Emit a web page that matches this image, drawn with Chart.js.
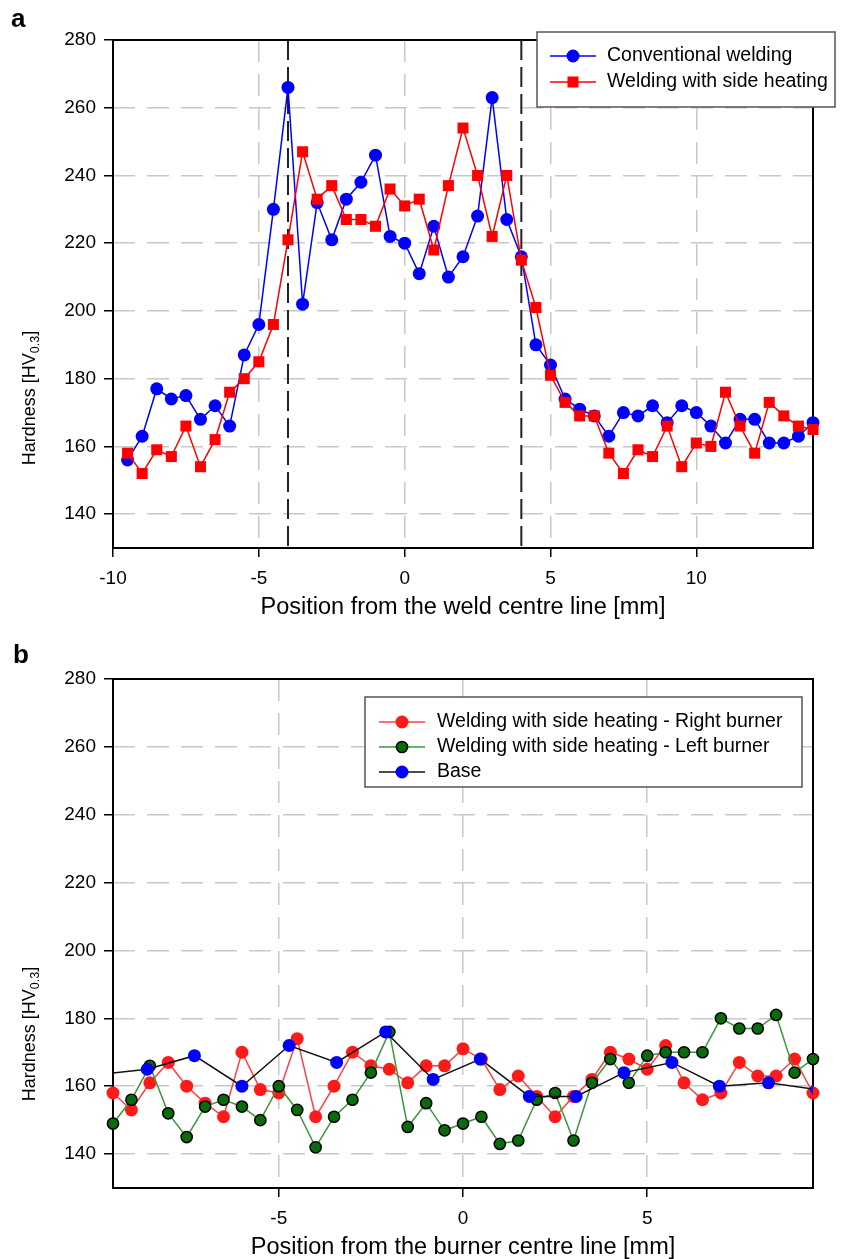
<!DOCTYPE html>
<html>
<head>
<meta charset="utf-8">
<script src="https://cdn.jsdelivr.net/npm/chart.js@4.4.1/dist/chart.umd.min.js"></script>
<style>
  html, body { margin: 0; padding: 0; background: #fff; }
  body { width: 845px; height: 1259px; position: relative; overflow: hidden; font-family: "Liberation Sans", Arial, sans-serif; }
  .panel { position: absolute; left: 0; width: 845px; }
  #panelA { top: 0; height: 630px; }
  #panelB { top: 630px; height: 640px; }
  .tag { position: absolute; z-index: 2; font-weight: bold; font-size: 26px; line-height: 1; }
</style>
</head>
<body>
<div class="panel" id="panelA"><canvas id="chartA" width="845" height="630"></canvas></div>
<div class="panel" id="panelB"><canvas id="chartB" width="845" height="640"></canvas></div>
<div class="tag" style="left:11px; top:5px">a</div>
<div class="tag" style="left:13px; top:641px">b</div>
<script>
// --- panel a: hardness across the weld ---
const posA = [-9.5, -9, -8.5, -8, -7.5, -7, -6.5, -6, -5.5, -5,
  -4.5, -4, -3.5, -3, -2.5, -2, -1.5, -1, -0.5, 0,
  0.5, 1, 1.5, 2, 2.5, 3, 3.5, 4, 4.5, 5,
  5.5, 6, 6.5, 7, 7.5, 8, 8.5, 9, 9.5, 10,
  10.5, 11, 11.5, 12, 12.5, 13, 13.5, 14];
const conventional = [156, 163, 177, 174, 175, 168, 172, 166, 187, 196,
  230, 266, 202, 232, 221, 233, 238, 246, 222, 220,
  211, 225, 210, 216, 228, 263, 227, 216, 190, 184,
  174, 171, 169, 163, 170, 169, 172, 167, 172, 170,
  166, 161, 168, 168, 161, 161, 163, 167];
const sideHeating = [158, 152, 159, 157, 166, 154, 162, 176, 180, 185,
  196, 221, 247, 233, 237, 227, 227, 225, 236, 231,
  233, 218, 237, 254, 240, 222, 240, 215, 201, 181,
  173, 169, 169, 158, 152, 159, 157, 166, 154, 161,
  160, 176, 166, 158, 173, 169, 166, 165];
const fusionLines = [-4, 4];

// --- panel b: hardness across the burner track ---
const posB = [-9.5, -9, -8.5, -8, -7.5, -7, -6.5, -6, -5.5, -5,
  -4.5, -4, -3.5, -3, -2.5, -2, -1.5, -1, -0.5, 0,
  0.5, 1, 1.5, 2, 2.5, 3, 3.5, 4, 4.5, 5,
  5.5, 6, 6.5, 7, 7.5, 8, 8.5, 9, 9.5];
const rightBurner = [158, 153, 161, 167, 160, 155, 151, 170, 159, 158,
  174, 151, 160, 170, 166, 165, 161, 166, 166, 171,
  168, 159, 163, 157, 151, 157, 162, 170, 168, 165,
  172, 161, 156, 158, 167, 163, 163, 168, 158];
const leftBurner = [149, 156, 166, 152, 145, 154, 156, 154, 150, 160,
  153, 142, 151, 156, 164, 176, 148, 155, 147, 149,
  151, 143, 144, 156, 158, 144, 161, 168, 161, 169,
  170, 170, 170, 180, 177, 177, 181, 164, 168];
const basePos = [-9.86, -8.57, -7.29, -6.0, -4.72, -3.43, -2.1, -0.81,
  0.47, 1.8, 3.07, 4.37, 5.67, 6.96, 8.29, 9.6];
const baseHv = [163.5, 165, 169, 160, 172, 167, 176, 162,
  168, 157, 157, 164, 167, 160, 161, 159];

// y title pieces (main text, subscript, closing bracket)
const yTitle = ['Hardness [HV', '0.3', ']'];

const FONT = '"Liberation Sans", Arial, sans-serif';
Chart.defaults.font.family = FONT;
Chart.defaults.color = '#000';

const pts = (xs, ys) => xs.map((x, i) => ({ x: x, y: ys[i] }));

// frame around the plot, dashed fusion lines, y title with subscript
const framePlugin = {
  id: 'frame',
  beforeDatasetsDraw(chart, args, opts) {
    const { ctx, chartArea: a } = chart;
    const xs = chart.scales.x;
    ctx.save();
    (opts.lines || []).forEach(v => {
      const px = xs.getPixelForValue(v);
      ctx.strokeStyle = '#222';
      ctx.lineWidth = 2;
      ctx.setLineDash([20, 7]);
      ctx.beginPath();
      ctx.moveTo(px, a.top);
      ctx.lineTo(px, a.bottom);
      ctx.stroke();
    });
    ctx.setLineDash([]);
    ctx.strokeStyle = '#000';
    ctx.lineWidth = 2;
    ctx.strokeRect(a.left, a.top, a.right - a.left, a.bottom - a.top);
    ctx.restore();
  },
  afterDraw(chart, args, opts) {
    const { ctx, chartArea: a } = chart;
    const [main, sub, close] = yTitle;
    const big = '18px ' + FONT, small = '12.5px ' + FONT;
    ctx.save();
    ctx.translate(opts.titleX, a.top + opts.titleOffset);
    ctx.rotate(-Math.PI / 2);
    ctx.fillStyle = '#000';
    ctx.textBaseline = 'alphabetic';
    ctx.textAlign = 'left';
    ctx.font = big;
    const w1 = ctx.measureText(main).width, w3 = ctx.measureText(close).width;
    ctx.font = small;
    const w2 = ctx.measureText(sub).width;
    const x0 = -(w1 + w2 + w3) / 2;
    ctx.font = big;
    ctx.fillText(main, x0, 6.5);
    ctx.fillText(close, x0 + w1 + w2, 6.5);
    ctx.font = small;
    ctx.fillText(sub, x0 + w1, 10.5);
    ctx.restore();
  }
};

// boxed legend placed like the original figure
const boxLegend = {
  id: 'boxLegend',
  afterDraw(chart, args, o) {
    const ctx = chart.ctx;
    ctx.save();
    ctx.fillStyle = '#fff';
    ctx.fillRect(o.x, o.y, o.w, o.h);
    ctx.strokeStyle = '#555';
    ctx.lineWidth = 1.5;
    ctx.strokeRect(o.x, o.y, o.w, o.h);
    ctx.font = o.font;
    ctx.textBaseline = 'middle';
    chart.data.datasets.forEach((ds, i) => {
      const y = o.rows[i];
      const cx = o.lineX + o.lineLen / 2;
      ctx.strokeStyle = ds.borderColor;
      ctx.lineWidth = ds.borderWidth;
      ctx.beginPath();
      ctx.moveTo(o.lineX, y);
      ctx.lineTo(o.lineX + o.lineLen, y);
      ctx.stroke();
      ctx.fillStyle = ds.pointBackgroundColor;
      ctx.beginPath();
      if (ds.pointStyle === 'rect') {
        const s = ds.pointRadius * Math.SQRT1_2;
        ctx.rect(cx - s, y - s, 2 * s, 2 * s);
      } else {
        ctx.arc(cx, y, ds.pointRadius, 0, Math.PI * 2);
      }
      ctx.fill();
      if (ds.pointBorderWidth) {
        ctx.strokeStyle = ds.pointBorderColor;
        ctx.lineWidth = ds.pointBorderWidth;
        ctx.stroke();
      }
      ctx.fillStyle = '#000';
      ctx.fillText(ds.label, o.textX, y);
    });
    ctx.restore();
  }
};

function axisX(min, max, title) {
  return {
    type: 'linear', min: min, max: max,
    ticks: { stepSize: 5, includeBounds: false, font: { size: 19 }, padding: 10, color: '#000' },
    grid: { color: '#c8c8c8', lineWidth: 1.5, tickColor: '#000', tickWidth: 1.5, tickLength: 9 },
    border: { display: false, dash: [22, 12] },
    title: { display: true, text: title, font: { size: 23.5 }, padding: { top: 0, bottom: 8 } },
    afterFit(s) { s.height = 82; }
  };
}

function axisY() {
  return {
    type: 'linear', min: 130, max: 280,
    ticks: { stepSize: 20, includeBounds: false, font: { size: 19 }, padding: 8, color: '#000' },
    grid: { color: '#c8c8c8', lineWidth: 1.5, tickColor: '#000', tickWidth: 1.5, tickLength: 9 },
    border: { display: false, dash: [22, 12] },
    title: { display: false },
    afterFit(s) { s.width = 113; }
  };
}

new Chart(document.getElementById('chartA'), {
  type: 'line',
  data: {
    datasets: [{
      label: 'Conventional welding',
      data: pts(posA, conventional),
      borderColor: '#0000ff', borderWidth: 1.5,
      pointStyle: 'circle', pointRadius: 6.5,
      pointBackgroundColor: '#0000ff', pointBorderColor: '#0000ff', pointBorderWidth: 0,
      order: 2, clip: false
    }, {
      label: 'Welding with side heating',
      data: pts(posA, sideHeating),
      borderColor: '#ff0000', borderWidth: 1.5,
      pointStyle: 'rect', pointRadius: 7.8,
      pointBackgroundColor: '#ff0000', pointBorderColor: '#ff0000', pointBorderWidth: 0,
      order: 1, clip: false
    }]
  },
  options: {
    responsive: false, animation: false, devicePixelRatio: 1,
    layout: { padding: { left: 0, top: 40, right: 32, bottom: 0 } },
    elements: { line: { tension: 0 } },
    plugins: {
      legend: { display: false },
      tooltip: { enabled: false },
      frame: { lines: fusionLines, titleX: 28, titleOffset: 358 },
      boxLegend: { x: 537, y: 32, w: 298, h: 75, rows: [56, 82], lineX: 550, lineLen: 46, textX: 607, font: '19.5px ' + FONT }
    },
    scales: { x: axisX(-10, 14, 'Position from the weld centre line [mm]'), y: axisY() }
  },
  plugins: [framePlugin, boxLegend]
});

new Chart(document.getElementById('chartB'), {
  type: 'line',
  data: {
    datasets: [{
      label: 'Welding with side heating - Right burner',
      data: pts(posB, rightBurner),
      borderColor: '#ff4040', borderWidth: 1.5,
      pointStyle: 'circle', pointRadius: 6.5,
      pointBackgroundColor: '#ff1a1a', pointBorderColor: '#ff1a1a', pointBorderWidth: 0,
      order: 3, clip: false
    }, {
      label: 'Welding with side heating - Left burner',
      data: pts(posB, leftBurner),
      borderColor: '#3a963a', borderWidth: 1.5,
      pointStyle: 'circle', pointRadius: 5.6,
      pointBackgroundColor: '#0b6a0b', pointBorderColor: '#000', pointBorderWidth: 1.5,
      order: 2, clip: false
    }, {
      label: 'Base',
      data: pts(basePos, baseHv),
      borderColor: '#111', borderWidth: 1.5,
      pointStyle: 'circle', pointRadius: 6.5,
      pointBackgroundColor: '#0000ff', pointBorderColor: '#0000ff', pointBorderWidth: 0,
      order: 1, clip: 0
    }]
  },
  options: {
    responsive: false, animation: false, devicePixelRatio: 1,
    layout: { padding: { left: 0, top: 49, right: 32, bottom: 0 } },
    elements: { line: { tension: 0 } },
    plugins: {
      legend: { display: false },
      tooltip: { enabled: false },
      frame: { lines: [], titleX: 28, titleOffset: 355 },
      boxLegend: { x: 365, y: 67, w: 437, h: 90, rows: [92, 117, 142], lineX: 379, lineLen: 46, textX: 437, font: '19.5px ' + FONT }
    },
    scales: { x: axisX(-9.5, 9.5, 'Position from the burner centre line [mm]'), y: axisY() }
  },
  plugins: [framePlugin, boxLegend]
});
</script>
</body>
</html>
